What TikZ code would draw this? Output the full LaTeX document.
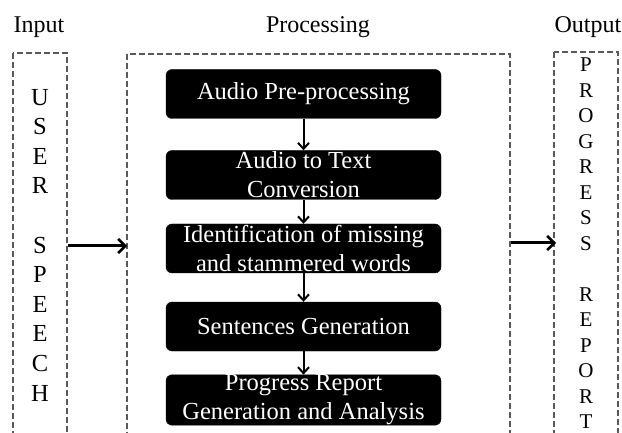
\documentclass[tikz,border=0pt]{standalone}
\usepackage{fontspec}
\setmainfont{Liberation Serif}
\usetikzlibrary{arrows.meta}
\begin{document}
\begin{tikzpicture}[x=1pt,y=-1pt,
  dashbox/.style={draw=black!65,dash pattern=on 6pt off 3pt,line width=1.1pt},
  procbox/.style={fill=black,draw=black,rounded corners=6pt,minimum width=275pt,minimum height=49pt,
    text=white,align=center,inner sep=0pt,font=\fontsize{24.5}{29}\selectfont},
  title/.style={font=\fontsize{24}{29}\selectfont,inner sep=0pt},
  flow/.style={line width=2pt,-{Straight Barb[length=6pt,width=11pt,line width=2pt]}},
  bigflow/.style={line width=3pt,-{Straight Barb[length=7pt,width=14pt,line width=2.6pt]}}]
\useasboundingbox (0,0) rectangle (622,433);
\clip (0,0) rectangle (622,433);
\fill[white] (0,0) rectangle (622,433);
% titles
\node[title] (tin) at (39,27) {Input};
\node[title] (tproc) at (318,27) {Processing};
\node[title] (tout) at (588,27) {Output};
% dashed frames
\draw[dashbox] (13,53) rectangle (67,445);
\coordinate (inR) at (68,246);
\draw[dashbox] (127,54) rectangle (510,445);
\coordinate (procL) at (127,246);
\coordinate (procR) at (511,243);
\draw[dashbox] (554,52) rectangle (618,445);
\coordinate (outL) at (556,243);
% vertical texts
\node[align=center,inner sep=0pt,font=\fontsize{24.5}{29.6}\selectfont] (user) at (40,245)
  {U\\S\\E\\R\\[29.6pt]S\\P\\E\\E\\C\\H};
\node[align=center,inner sep=0pt,font=\fontsize{21}{25.5}\selectfont] (report) at (586,243.5)
  {P\\R\\O\\G\\R\\E\\S\\S\\[25.5pt]R\\E\\P\\O\\R\\T};
% process boxes
\node[procbox] (b1) at (303.5,94) {Audio Pre-processing};
\node[procbox] (b2) at (303.5,175) {Audio to Text\\Conversion};
\node[procbox] (b3) at (303.5,248.5) {Identification of missing\\and stammered words};
\node[procbox] (b4) at (303.5,326.5) {Sentences Generation};
\node[procbox] (b5) at (303.5,400) {Progress Report\\Generation and Analysis};
% arrows
\draw[flow] (b1) -- (b2);
\draw[flow] (b2) -- (b3);
\draw[flow] (b3) -- (b4);
\draw[flow] (b4) -- (b5);
\draw[bigflow] (inR) -- (procL);
\draw[bigflow] (procR) -- (outL);
\end{tikzpicture}
\end{document}
